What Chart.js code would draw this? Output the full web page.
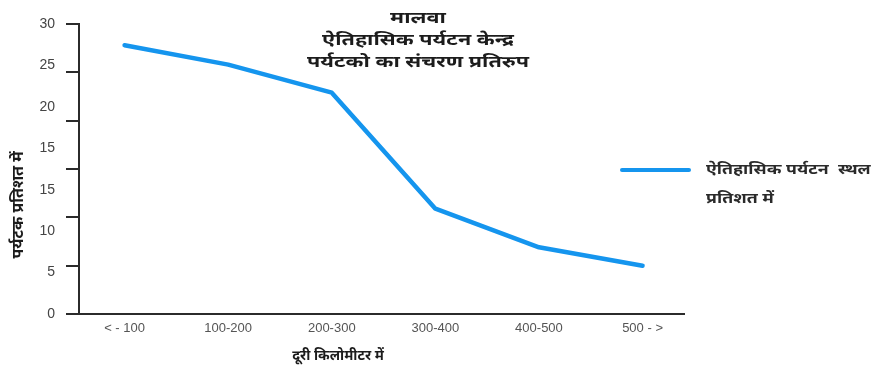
<!DOCTYPE html>
<html>
<head>
<meta charset="utf-8">
<script src="https://cdn.jsdelivr.net/npm/chart.js@4.4.1/dist/chart.umd.min.js"></script>
<style>
  html, body { margin: 0; padding: 0; background: #ffffff; }
  #wrap { width: 871px; height: 365px; }
</style>
</head>
<body>
<div id="wrap"><canvas id="c" width="871" height="365"></canvas></div>
<script>
// Distance bands (km) and share of tourists (%) in each band
const categories = ['< - 100', '100-200', '200-300', '300-400', '400-500', '500 - >'];
const touristShare = [27.8, 25.8, 22.9, 10.9, 6.9, 5.0];
// Labels printed along the vertical axis
const yAxisLabels = ['30', '25', '20', '15', '15', '10', '5', '0'];

const titleLines = ['मालवा', 'ऐतिहासिक पर्यटन केन्द्र', 'पर्यटको का संचरण प्रतिरुप'];
const seriesLabel = ['ऐतिहासिक पर्यटन  स्थल', 'प्रतिशत में'];
const yTitle = 'पर्यटक प्रतिशत में';
const xTitle = 'दूरी किलोमीटर में';

const LINE_COLOR = '#1595ee';
const AXIS_COLOR = '#2b2b2b';
const DEVA_FONT = '"Noto Sans", "Lohit Devanagari", "Mangal", sans-serif';

// Draws text widened horizontally by the factor sx
function wideText(ctx, text, x, y, sx) {
  ctx.save();
  ctx.translate(x, y);
  ctx.scale(sx, 1);
  ctx.fillText(text, 0, 0);
  ctx.restore();
}

// Title, axis titles and the legend block are painted on top of the chart
const annotations = {
  id: 'annotations',
  afterDraw(chart) {
    const ctx = chart.ctx;
    ctx.save();
    ctx.fillStyle = '#1c1c1c';
    ctx.textAlign = 'center';
    ctx.textBaseline = 'middle';
    ctx.font = 'bold 16px ' + DEVA_FONT;
    titleLines.forEach((t, i) => wideText(ctx, t, 418, 18 + i * 22, 1.35));

    ctx.font = 'bold 14px ' + DEVA_FONT;
    ctx.fillText(xTitle, 338, 356);

    ctx.save();
    ctx.translate(18, 205);
    ctx.rotate(-Math.PI / 2);
    ctx.font = 'bold 16px ' + DEVA_FONT;
    ctx.fillText(yTitle, 0, 0);
    ctx.restore();

    // legend
    const ds = chart.data.datasets[0];
    ctx.strokeStyle = ds.borderColor;
    ctx.lineWidth = 4;
    ctx.lineCap = 'round';
    ctx.beginPath();
    ctx.moveTo(622, 170);
    ctx.lineTo(689, 170);
    ctx.stroke();
    ctx.textAlign = 'left';
    ctx.fillStyle = '#2a2a2a';
    ctx.font = 'bold 14px ' + DEVA_FONT;
    ds.label.forEach((t, i) => wideText(ctx, t, 706, 170 + i * 29, 1.27));
    ctx.restore();
  }
};

new Chart(document.getElementById('c'), {
  type: 'line',
  data: {
    datasets: [{
      label: seriesLabel,
      data: categories.map((c, i) => ({ x: i, y: touristShare[i] })),
      borderColor: LINE_COLOR,
      backgroundColor: LINE_COLOR,
      borderWidth: 4.5,
      borderCapStyle: 'round',
      borderJoinStyle: 'round',
      pointRadius: 0,
      tension: 0,
      fill: false
    }]
  },
  options: {
    responsive: false,
    animation: false,
    layout: { padding: { top: 24, right: 187, bottom: 0, left: 0 } },
    plugins: { legend: { display: false }, tooltip: { enabled: false }, title: { display: false } },
    scales: {
      x: {
        type: 'linear',
        min: -0.44,
        max: 5.4,
        afterBuildTicks: s => { s.ticks = categories.map((c, i) => ({ value: i })); },
        afterFit: s => { s.height = 51; },
        grid: { display: false, drawTicks: false },
        border: { display: true, color: AXIS_COLOR, width: 2 },
        ticks: {
          callback: v => categories[v],
          color: '#555',
          font: { family: 'Liberation Sans, Arial, sans-serif', size: 13 },
          padding: 7,
          maxRotation: 0,
          autoSkip: false
        }
      },
      y: {
        type: 'linear',
        min: 0,
        max: 30,
        weight: 0,
        afterFit: s => { s.width = 13; },
        ticks: { display: false, stepSize: 5 },
        grid: { drawOnChartArea: false, drawTicks: true, tickLength: 13, color: AXIS_COLOR, lineWidth: 2 },
        border: { display: true, color: AXIS_COLOR, width: 2 }
      },
      yl: {
        type: 'category',
        position: 'left',
        labels: yAxisLabels,
        offset: false,
        weight: 1,
        afterFit: s => { s.width = 66; },
        grid: { display: false, drawTicks: false },
        border: { display: false },
        ticks: {
          color: '#444',
          font: { family: 'Liberation Sans, Arial, sans-serif', size: 14 },
          padding: 11,
          autoSkip: false
        }
      }
    }
  },
  plugins: [annotations]
});
</script>
</body>
</html>
